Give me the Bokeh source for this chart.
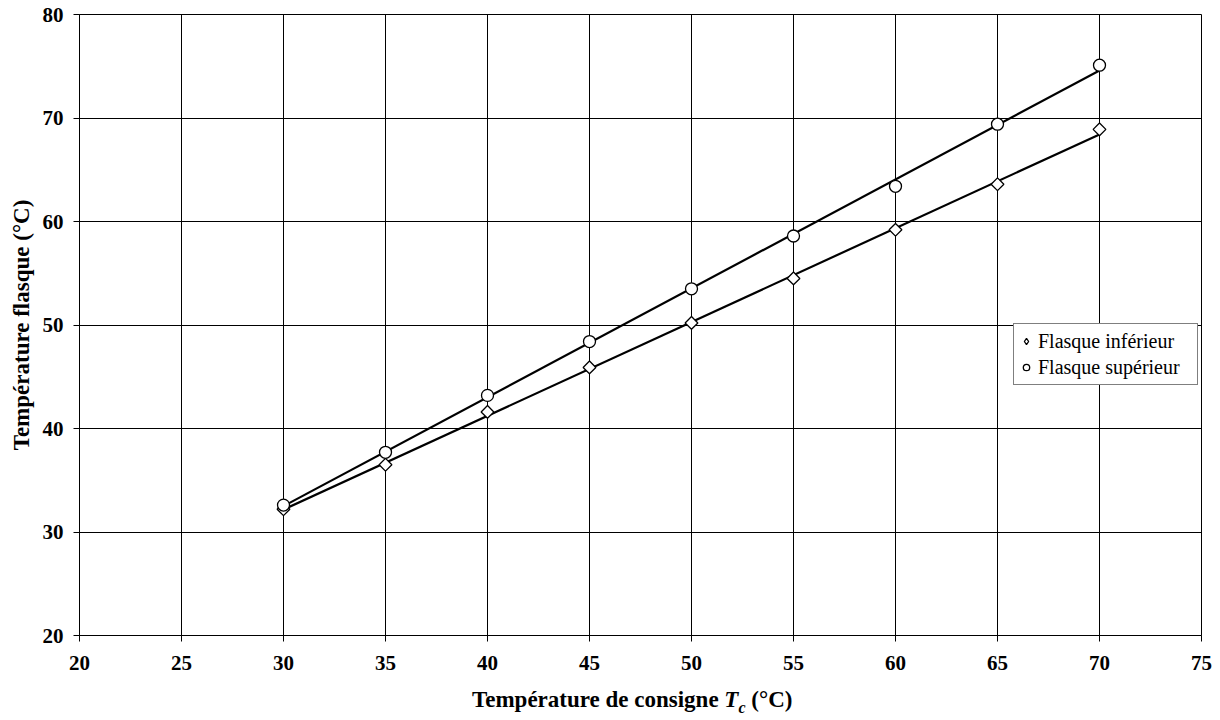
import numpy as np
from bokeh.plotting import figure
from bokeh.layouts import column
from bokeh.models import FixedTicker, Legend, LegendItem, Range1d, Div
from bokeh.embed import file_html
from bokeh.resources import INLINE

# ---- data ----
consigne = [30, 35, 40, 45, 50, 55, 60, 65, 70]
flasque_inferieur = [32.2, 36.5, 41.6, 45.9, 50.2, 54.5, 59.2, 63.6, 68.9]
flasque_superieur = [32.6, 37.7, 43.2, 48.4, 53.5, 58.6, 63.4, 69.4, 75.1]
series_names = ["Flasque inférieur", "Flasque supérieur"]
x_ticks = [20, 25, 30, 35, 40, 45, 50, 55, 60, 65, 70, 75]
y_ticks = [20, 30, 40, 50, 60, 70, 80]
y_title = "Température flasque (°C)"
x_title_html = "Température de consigne <i>T<sub style='font-size:16px;'>c</sub></i> (°C)"

FONT = "Liberation Serif"

p = figure(width=1212, height=680,
           x_range=Range1d(20, 75), y_range=Range1d(20, 80),
           output_backend="svg", toolbar_location=None,
           min_border_left=79, min_border_right=11,
           min_border_top=14, min_border_bottom=45)

p.background_fill_color = "white"
p.border_fill_color = "white"
p.outline_line_color = "black"
p.outline_line_width = 1

for ax, ticks in ((p.xaxis, x_ticks), (p.yaxis, y_ticks)):
    ax.ticker = FixedTicker(ticks=ticks)
    ax.minor_tick_line_color = None
    ax.major_tick_in = 0
    ax.major_tick_out = 6
    ax.major_tick_line_color = "black"
    ax.axis_line_color = "black"
    ax.major_label_text_font = FONT
    ax.major_label_text_font_style = "bold"
    ax.major_label_text_font_size = "21px"
    ax.major_label_text_color = "black"

p.xaxis.major_label_standoff = 14
p.yaxis.major_label_standoff = 10

p.yaxis.axis_label = y_title
p.yaxis.axis_label_text_font = FONT
p.yaxis.axis_label_text_font_style = "bold"
p.yaxis.axis_label_text_font_size = "23px"
p.yaxis.axis_label_text_color = "black"
p.yaxis.axis_label_standoff = 6

p.xgrid.ticker = FixedTicker(ticks=x_ticks)
p.ygrid.ticker = FixedTicker(ticks=y_ticks)
for g in (p.xgrid, p.ygrid):
    g.grid_line_color = "black"
    g.grid_line_width = 1
    g.grid_line_alpha = 1.0

# linear trend lines through each series
xs = np.array(consigne, dtype=float)
x_end = np.array([xs.min(), xs.max()])
for ys in (flasque_inferieur, flasque_superieur):
    a, b = np.polyfit(xs, np.array(ys, dtype=float), 1)
    p.line(x_end, a * x_end + b, line_color="black", line_width=2.2)

r_inf = p.scatter(consigne, flasque_inferieur, marker="square", angle=np.pi / 4,
                  size=9, fill_color="white", line_color="black", line_width=1.3)
r_sup = p.scatter(consigne, flasque_superieur, marker="circle",
                  size=12, fill_color="white", line_color="black", line_width=1.3)
# hidden diamond renderer of the same series, used only for the legend symbol
r_inf_leg = p.scatter(consigne, flasque_inferieur, marker="diamond", size=12,
                      fill_color="white", line_color="black", line_width=1.3,
                      visible=False)

legend = Legend(items=[LegendItem(label=series_names[0], renderers=[r_inf_leg]),
                       LegendItem(label=series_names[1], renderers=[r_sup])],
                location=(934, 250))
legend.label_text_font = FONT
legend.label_text_font_size = "20px"
legend.label_text_color = "black"
legend.border_line_color = "black"
legend.border_line_width = 1
legend.background_fill_color = "white"
legend.background_fill_alpha = 1
legend.inactive_fill_alpha = 0
legend.padding = 4
legend.margin = 0
legend.spacing = 0
legend.glyph_width = 16
legend.glyph_height = 20
legend.label_standoff = 4
legend.label_width = 155
legend.label_height = 26
p.add_layout(legend, "center")

x_title = Div(
    text=("<div style=\"padding-left:472px;padding-top:8px;font-family:'Liberation Serif',serif;"
          "font-weight:bold;font-size:23px;line-height:23px;white-space:nowrap;color:black;\">"
          + x_title_html + "</div>"),
    width=1212, height=32, margin=0)

layout = column(p, x_title, spacing=0)
open("out.html", "w").write(file_html(layout, INLINE))
